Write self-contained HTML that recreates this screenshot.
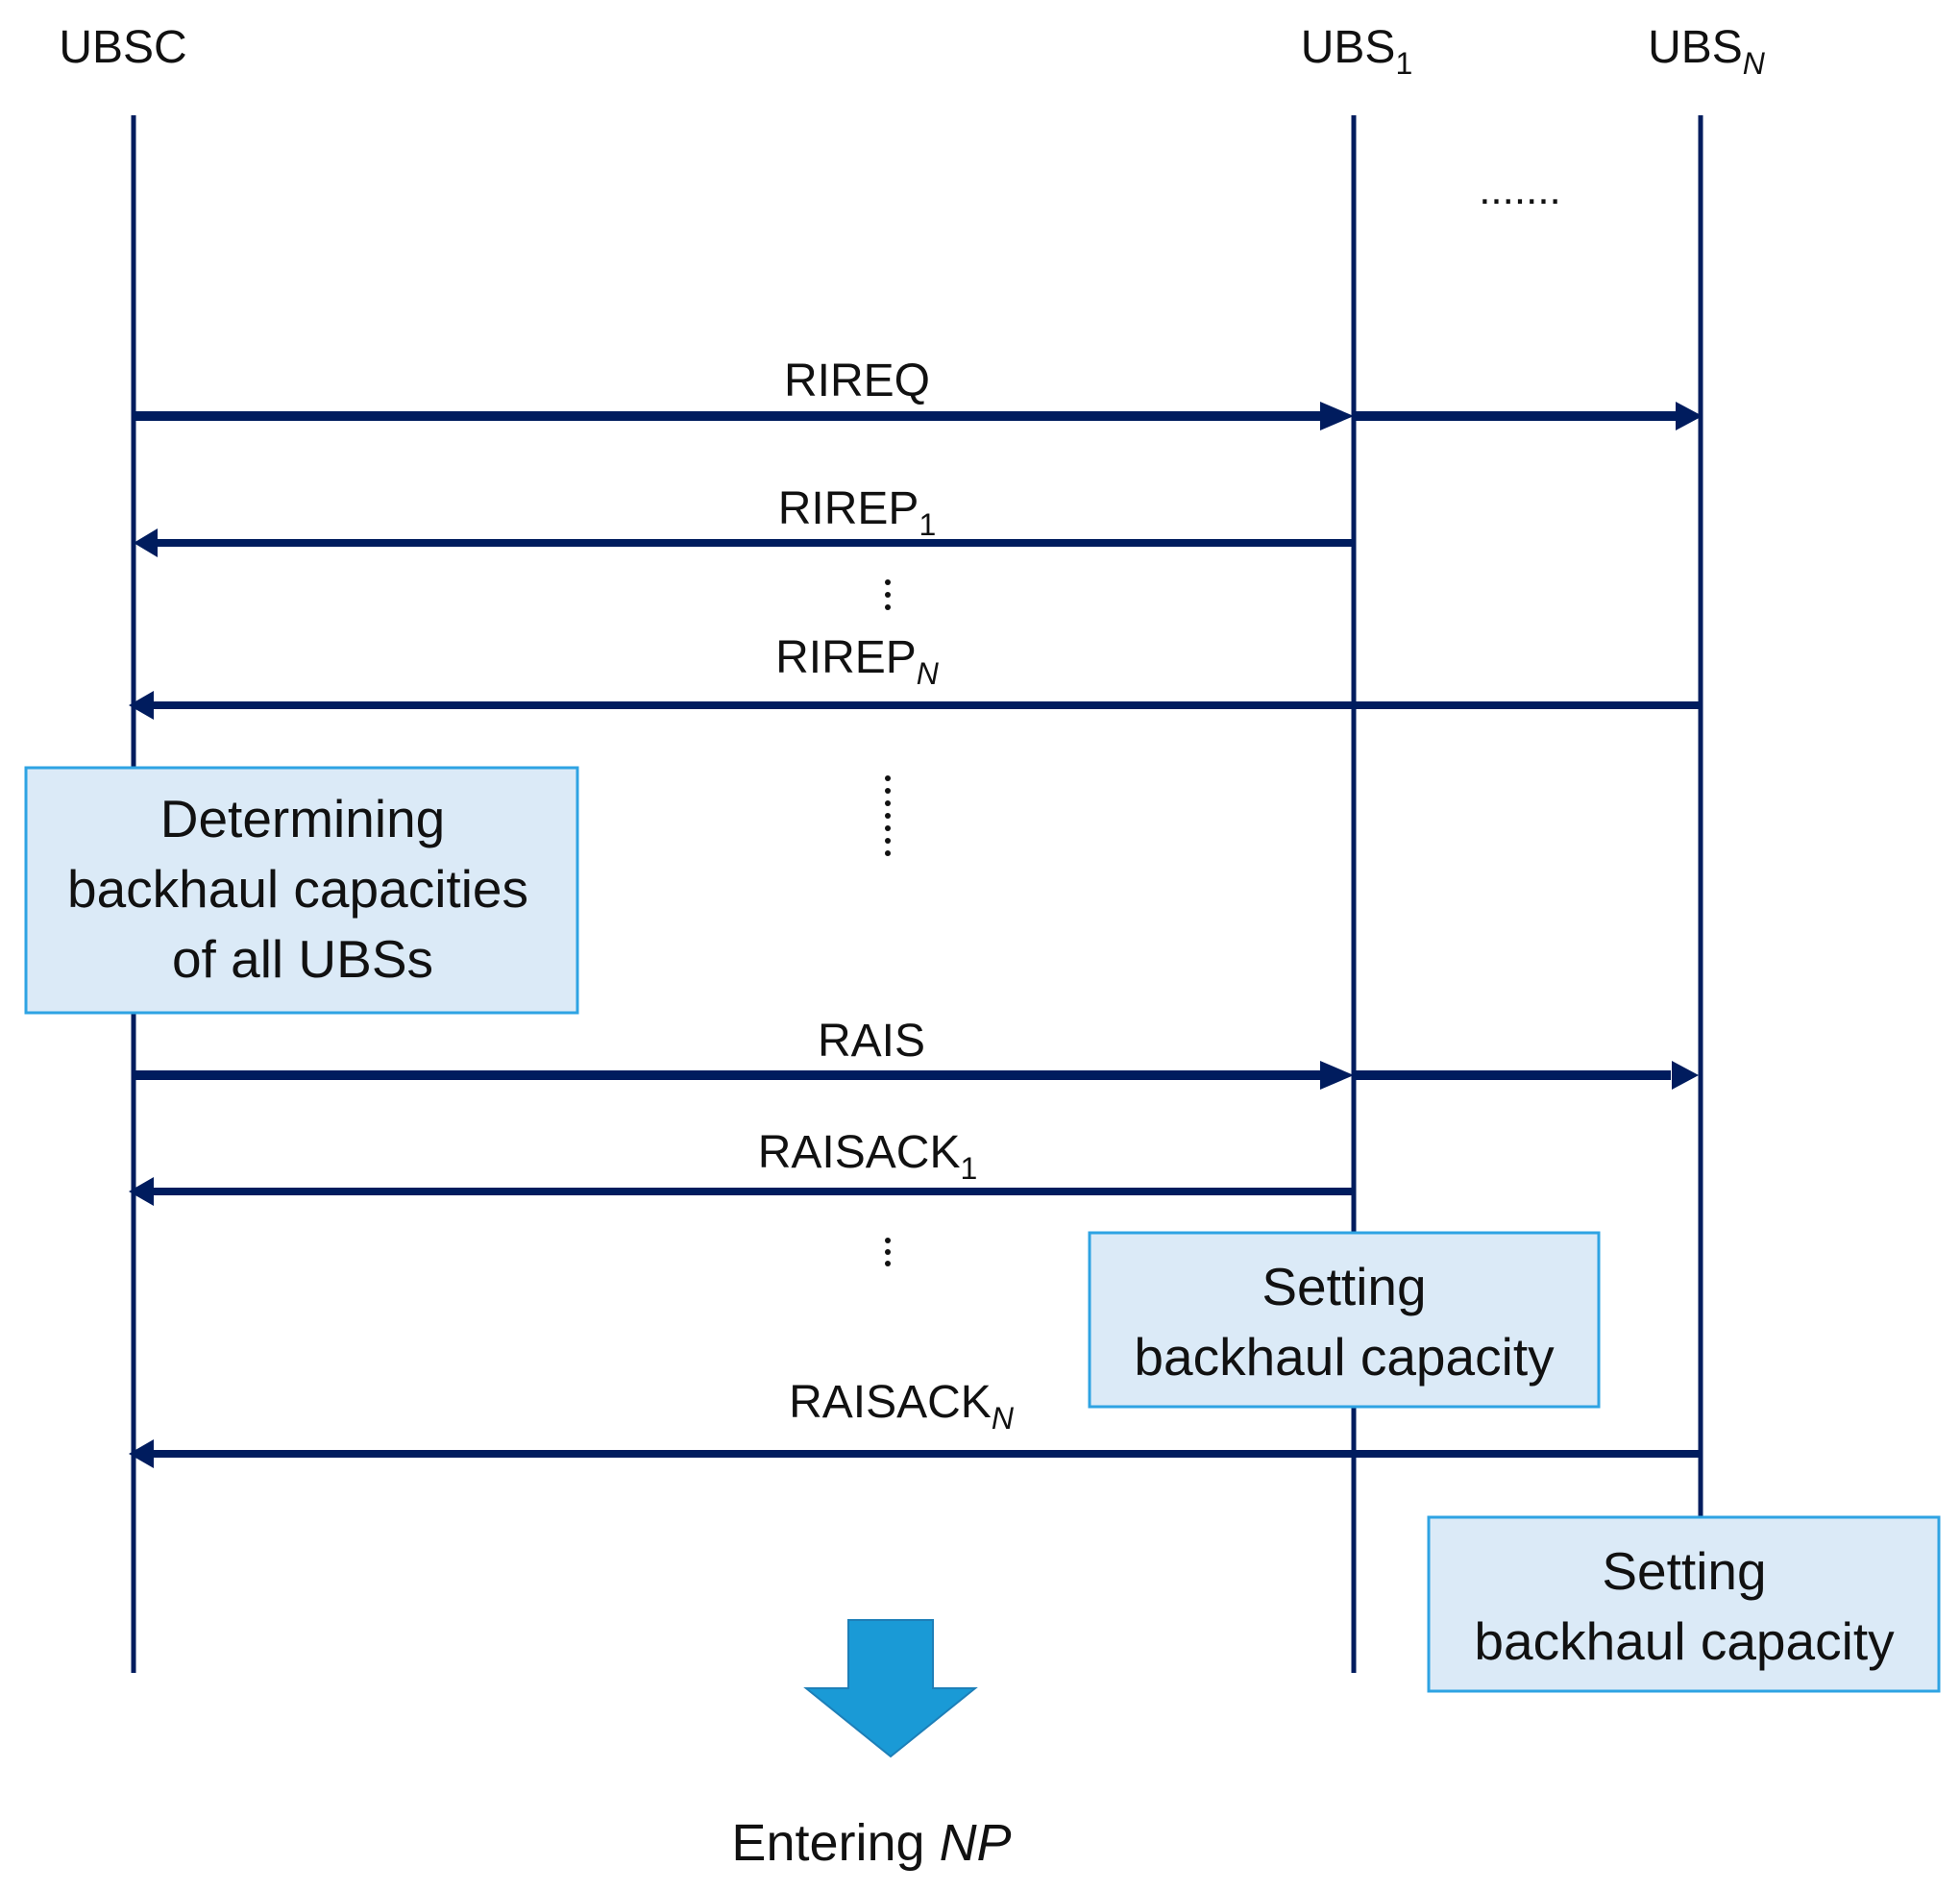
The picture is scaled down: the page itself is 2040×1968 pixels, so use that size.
<!DOCTYPE html>
<html><head><meta charset="utf-8"><style>
html,body{margin:0;padding:0;background:#fff;}
svg{display:block;}
text{font-family:"Liberation Sans",sans-serif;fill:#111;}
</style></head><body>
<svg width="2040" height="1968" viewBox="0 0 2040 1968" xmlns="http://www.w3.org/2000/svg">
<g stroke="#001c5e" stroke-width="5">
<line x1="139" y1="120" x2="139" y2="1741"/>
<line x1="1409" y1="120" x2="1409" y2="1741"/>
<line x1="1770" y1="120" x2="1770" y2="1579"/>
</g>
<g font-size="48" text-anchor="middle">
<text x="128" y="65">UBSC</text>
<text x="1412" y="65">UBS<tspan font-size="32" dy="12">1</tspan></text>
<text x="1776" y="65">UBS<tspan font-size="32" dy="12" font-style="italic">N</tspan></text>
<text x="1582" y="212" font-size="44">.......</text>
</g>
<g fill="#001c5e">
<rect x="139" y="428" width="1250" height="10"/>
<path d="M1374,418 L1409,433 L1374,448 z"/>
<rect x="1409" y="428" width="340" height="10"/>
<path d="M1744,418 L1772,433 L1744,448 z"/>
<rect x="160" y="561" width="1249" height="8"/>
<path d="M164,550 L139,565 L164,580 z"/>
<rect x="155" y="730" width="1615" height="8"/>
<path d="M160,719 L134,734 L160,749 z"/>
<rect x="139" y="1114" width="1250" height="10"/>
<path d="M1374,1104 L1409,1119 L1374,1134 z"/>
<rect x="1409" y="1114" width="330" height="10"/>
<path d="M1740,1104 L1768,1119 L1740,1134 z"/>
<rect x="155" y="1236" width="1254" height="8"/>
<path d="M160,1225 L134,1240 L160,1255 z"/>
<rect x="155" y="1509" width="1615" height="8"/>
<path d="M160,1498 L134,1513 L160,1528 z"/>
</g>
<g font-size="48" text-anchor="middle">
<text x="892" y="412">RIREQ</text>
<text x="892" y="545">RIREP<tspan font-size="32" dy="12">1</tspan></text>
<text x="892" y="700">RIREP<tspan font-size="32" dy="12" font-style="italic">N</tspan></text>
<text x="907" y="1099">RAIS</text>
<text x="903" y="1215">RAISACK<tspan font-size="32" dy="12">1</tspan></text>
<text x="938" y="1475">RAISACK<tspan font-size="32" dy="12" font-style="italic">N</tspan></text>
</g>
<g fill="#111">
<circle cx="924" cy="606" r="3"/><circle cx="924" cy="619" r="3"/><circle cx="924" cy="632" r="3"/>
<circle cx="924" cy="810" r="3"/><circle cx="924" cy="823" r="3"/><circle cx="924" cy="836" r="3"/><circle cx="924" cy="849" r="3"/><circle cx="924" cy="862" r="3"/><circle cx="924" cy="875" r="3"/><circle cx="924" cy="888" r="3"/>
<circle cx="924" cy="1291" r="3"/><circle cx="924" cy="1303" r="3"/><circle cx="924" cy="1315" r="3"/>
</g>
<g fill="#dbeaf7" stroke="#2ea3e3" stroke-width="3">
<rect x="27" y="799" width="574" height="255"/>
<rect x="1134" y="1283" width="530" height="181"/>
<rect x="1487" y="1579" width="531" height="181"/>
</g>
<g font-size="55" text-anchor="middle">
<text x="315" y="871">Determining</text>
<text x="310" y="944">backhaul capacities</text>
<text x="315" y="1017">of all UBSs</text>
<text x="1399" y="1358">Setting</text>
<text x="1399" y="1431">backhaul capacity</text>
<text x="1753" y="1654">Setting</text>
<text x="1753" y="1727">backhaul capacity</text>
</g>
<path d="M883,1686 L971,1686 L971,1757 L1015,1757 L927,1828 L839,1757 L883,1757 z" fill="#1a9ad6" stroke="#1d7fb8" stroke-width="2"/>
<text x="907" y="1936" font-size="54" text-anchor="middle">Entering <tspan font-style="italic">NP</tspan></text>
</svg>
</body></html>
